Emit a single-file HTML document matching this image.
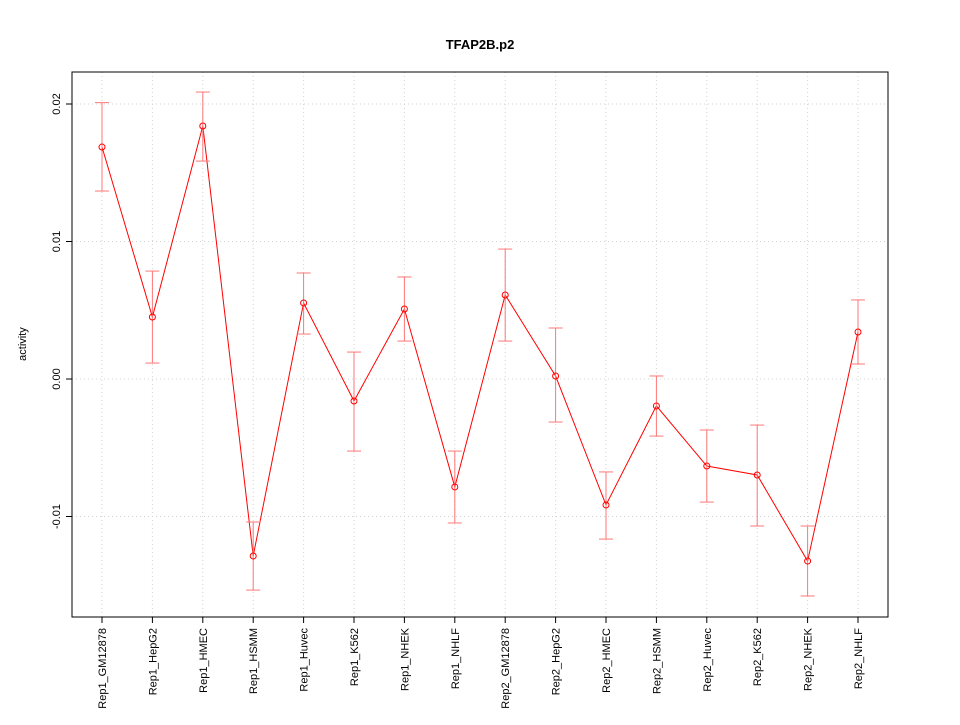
<!DOCTYPE html>
<html><head><meta charset="utf-8"><style>body{margin:0;background:#fff}</style></head>
<body>
<svg id="c" width="960" height="720" xmlns="http://www.w3.org/2000/svg" font-family="Liberation Sans, sans-serif"></svg>
<script>
const categories=["Rep1_GM12878","Rep1_HepG2","Rep1_HMEC","Rep1_HSMM","Rep1_Huvec","Rep1_K562","Rep1_NHEK","Rep1_NHLF","Rep2_GM12878","Rep2_HepG2","Rep2_HMEC","Rep2_HSMM","Rep2_Huvec","Rep2_K562","Rep2_NHEK","Rep2_NHLF"];
const values=[0.01687,0.00451,0.0184,-0.01287,0.00553,-0.0016,0.00509,-0.00785,0.00611,0.00022,-0.00916,-0.00196,-0.00633,-0.00698,-0.01324,0.00342];
const upper=[0.0201,0.00785,0.02087,-0.0104,0.00771,0.00196,0.00742,-0.00524,0.00945,0.00371,-0.00676,0.00022,-0.00371,-0.00335,-0.01069,0.00575];
const lower=[0.01367,0.00116,0.01585,-0.01535,0.00327,-0.00524,0.00276,-0.01047,0.00276,-0.00313,-0.01164,-0.00415,-0.00895,-0.01069,-0.01578,0.00109];
const yTicks=[-0.01,0,0.01,0.02];
const yTickLabels=["-0.01","0.00","0.01","0.02"];
const svg=document.getElementById('c');const NS="http://www.w3.org/2000/svg";
function mk(t,a,p){const e=document.createElementNS(NS,t);for(const k in a)e.setAttribute(k,a[k]);(p||svg).appendChild(e);return e;}
const L=72,R=888,T=72,B=617;
const x=i=>102+i*(858-102)/(categories.length-1);
const y=v=>379-v*13750;
let e;
e=mk('text',{x:480,y:49,'text-anchor':'middle','font-size':13,'font-weight':'bold'});e.textContent="TFAP2B.p2";


e=mk('text',{x:0,y:0,transform:'translate(26,344) rotate(-90)','text-anchor':'middle','font-size':11});e.textContent="activity";


categories.forEach((c,i)=>{
 e=mk('line',{x1:x(i),x2:x(i),y1:T,y2:B,stroke:'#d3d3d3','stroke-dasharray':'1,3'});
 
 
 mk('line',{x1:x(i),x2:x(i),y1:B,y2:B+6,stroke:'#000'});
 e=mk('text',{x:0,y:0,transform:`translate(${x(i)+4},${B+11}) rotate(-90)`,'text-anchor':'end','font-size':11});e.textContent=c;
 
 
});
yTicks.forEach((v,i)=>{
 e=mk('line',{x1:L,x2:R,y1:y(v),y2:y(v),stroke:'#d3d3d3','stroke-dasharray':'1,3'});
 
 
 mk('line',{x1:L-6,x2:L,y1:y(v),y2:y(v),stroke:'#000'});
 e=mk('text',{x:0,y:0,transform:`translate(${L-12},${y(v)}) rotate(-90)`,'text-anchor':'middle','font-size':11});e.textContent=yTickLabels[i];
 
 
});
e=mk('rect',{x:L,y:T,width:R-L,height:B-T,fill:'none',stroke:'#000'});


e=mk('polyline',{points:values.map((v,i)=>x(i)+','+y(v)).join(' '),fill:'none',stroke:'#f00'});


values.forEach((v,i)=>{
 const g=mk('g',{stroke:'#f77'});
 
 
 mk('line',{x1:x(i),x2:x(i),y1:y(upper[i]),y2:y(lower[i])},g);
 mk('line',{x1:x(i)-7,x2:x(i)+7,y1:y(upper[i]),y2:y(upper[i])},g);
 mk('line',{x1:x(i)-7,x2:x(i)+7,y1:y(lower[i]),y2:y(lower[i])},g);
 e=mk('circle',{cx:x(i),cy:y(v),r:3,fill:'none',stroke:'#f00'});
 
 
});
</script>
</body></html>
